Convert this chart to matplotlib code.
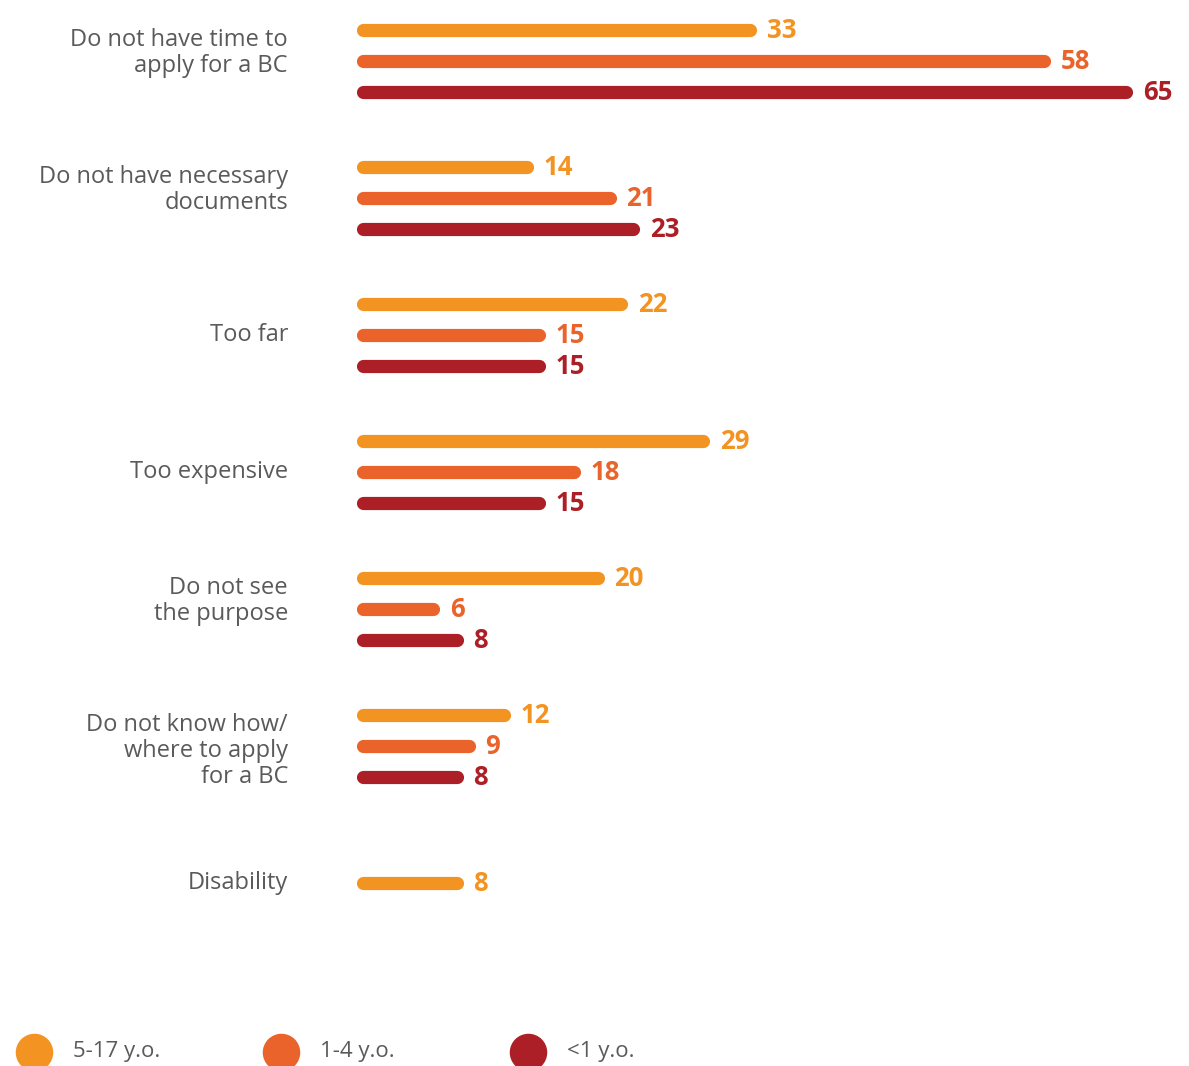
"""Reasons for not registering a birth, by age group of the child."""

import matplotlib.pyplot as plt
from matplotlib.lines import Line2D

reasons = [
    "Do not have time to\napply for a BC",
    "Do not have necessary\ndocuments",
    "Too far",
    "Too expensive",
    "Do not see\nthe purpose",
    "Do not know how/\nwhere to apply\nfor a BC",
    "Disability",
]
age_groups = ["5-17 y.o.", "1-4 y.o.", "<1 y.o."]
vals_5_17 = [33, 14, 22, 29, 20, 12, 8]
vals_1_4 = [58, 21, 15, 18, 6, 9, None]
vals_under1 = [65, 23, 15, 15, 8, 8, None]

colors = ["#F39322", "#E9632A", "#AD1F26"]
text_grey = "#5a5a5a"
plt.rcParams["font.family"] = ["Open Sans", "DejaVu Sans"]

W, H = 1189, 1066
fig = plt.figure(figsize=(W / 100, H / 100), dpi=100)
x0_px = 363
ax = fig.add_axes([x0_px / W, 0, 1 - x0_px / W, 1])
px_per_unit = (1126 - x0_px) / 65
ax.set_xlim(0, (W - x0_px) / px_per_unit)
group_px, first_px = 137, 61
ax.set_ylim((H - first_px) / group_px, -first_px / group_px)
ax.axis("off")

row_off = 31 / group_px
# vertical nudge of the category labels (points), by number of lines
label_nudge = {1: 0, 2: 6, 3: -3.5}
series = [vals_5_17, vals_1_4, vals_under1]
for i, reason in enumerate(reasons):
    present = [k for k, s in enumerate(series) if s[i] is not None]
    n = len(present)
    for j, k in enumerate(present):
        y = i + (j - (n - 1) / 2) * row_off
        v = series[k][i]
        ax.plot([0, v], [y, y], color=colors[k], lw=9.5,
                solid_capstyle="round", clip_on=False)
        ax.annotate(str(v), (v, y), xytext=(12, 0), textcoords="offset points",
                    color=colors[k], fontsize=18.5, fontweight="bold",
                    va="center", ha="left")
    ax.annotate(reason, (0, i),
                xytext=(-54, label_nudge[reason.count("\n") + 1]),
                textcoords="offset points", ha="right", va="center",
                fontsize=17, color=text_grey, linespacing=1.12)

# legend along the bottom edge
leg_y = 1052
for k, (label, col) in enumerate(zip(age_groups, colors)):
    cx = 34 + k * 247
    fig.add_artist(Line2D([cx / W], [1 - leg_y / H], marker="o",
                          markersize=26, color=col, linestyle="none",
                          transform=fig.transFigure))
    fig.text((cx + 39) / W, 1 - leg_y / H, label, fontsize=16,
             color=text_grey, va="center", ha="left")

fig.savefig("out.png", dpi=100)
